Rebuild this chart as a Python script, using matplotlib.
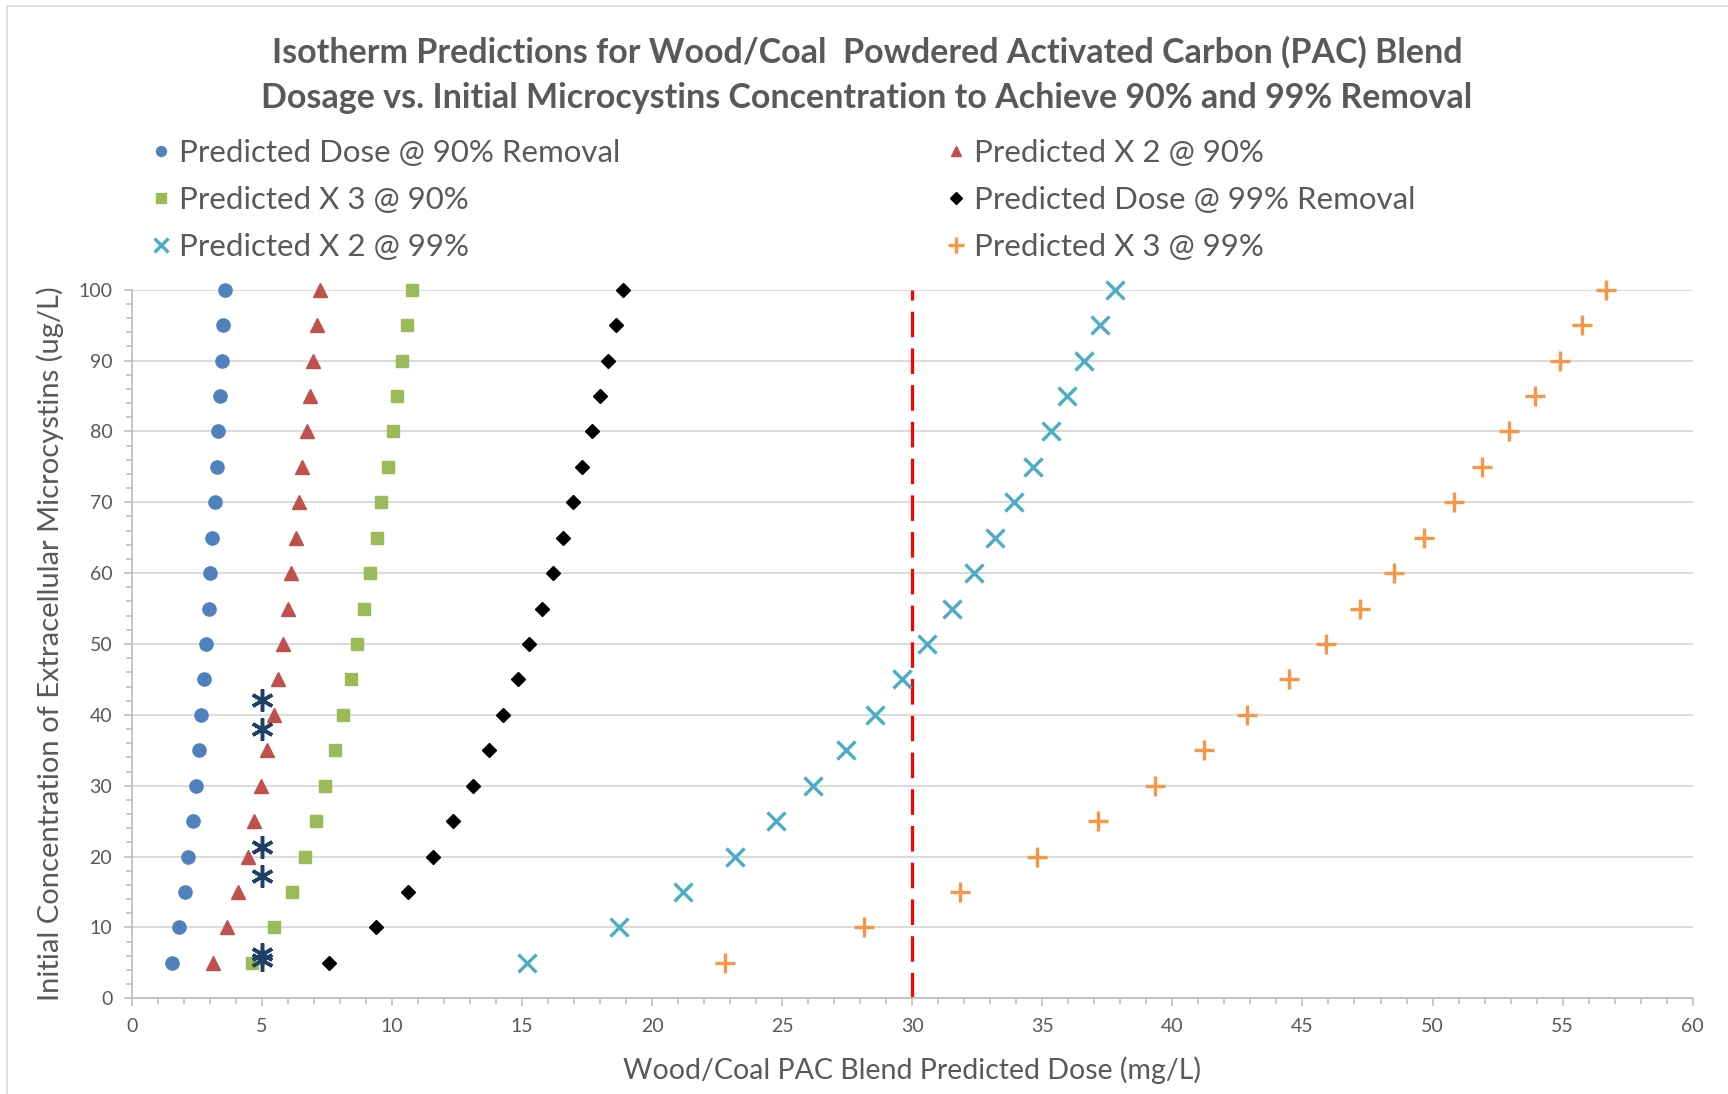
import matplotlib
matplotlib.use("Agg")
import matplotlib.pyplot as plt
from matplotlib.patches import Rectangle
from matplotlib.ticker import MultipleLocator

plt.rcParams['font.family'] = ['Lato', 'DejaVu Sans']

# Data
conc = [5, 10, 15, 20, 25, 30, 35, 40, 45, 50, 55, 60, 65, 70, 75, 80, 85, 90, 95, 100]
dose90 = [1.55, 1.80, 2.05, 2.18, 2.36, 2.48, 2.59, 2.66, 2.78, 2.84, 2.96, 3.02,
          3.09, 3.21, 3.27, 3.33, 3.39, 3.46, 3.52, 3.59]
x2_90 = [3.12, 3.66, 4.10, 4.46, 4.71, 4.97, 5.21, 5.47, 5.63, 5.81, 6.01, 6.12,
         6.31, 6.43, 6.55, 6.74, 6.87, 6.98, 7.11, 7.24]
x3_90 = [4.61, 5.48, 6.15, 6.65, 7.07, 7.44, 7.81, 8.12, 8.43, 8.67, 8.92, 9.16,
         9.41, 9.59, 9.84, 10.03, 10.21, 10.39, 10.57, 10.76]
dose99 = [7.59, 9.38, 10.61, 11.59, 12.35, 13.10, 13.74, 14.28, 14.85, 15.27, 15.77,
          16.21, 16.58, 16.95, 17.31, 17.68, 17.99, 18.29, 18.60, 18.89]
x2_99 = [15.19, 18.74, 21.20, 23.17, 24.76, 26.17, 27.45, 28.57, 29.62, 30.58, 31.52,
         32.39, 33.18, 33.93, 34.66, 35.33, 35.94, 36.61, 37.23, 37.78]
x3_99 = [22.80, 28.14, 31.84, 34.78, 37.15, 39.32, 41.23, 42.87, 44.47, 45.90, 47.23,
         48.51, 49.66, 50.84, 51.90, 52.93, 53.92, 54.90, 55.75, 56.68]
star_x = [5, 5, 5, 5, 5, 5]
star_y = [42.1, 38.0, 21.3, 17.2, 6.3, 5.4]
limit_x = [30, 30]
limit_y = [0, 100]

labels = ["Predicted Dose @ 90% Removal", "Predicted X 2 @ 90%", "Predicted X 3 @ 90%",
          "Predicted Dose @ 99% Removal", "Predicted X 2 @ 99%", "Predicted X 3 @ 99%"]

W, H = 1728, 1094
fig = plt.figure(figsize=(W / 100, H / 100), dpi=100)

# chart border (left/top visible)
fig.patches.append(Rectangle((7 / W, -0.1), 1.2, 1 - 6 / H + 0.1, transform=fig.transFigure,
                             fill=False, edgecolor='#D9D9D9', linewidth=1.2))

x0, x1 = 131.7, 1692.7
y0, y1 = 998.2, 289.8
ax = fig.add_axes([x0 / W, 1 - y0 / H, (x1 - x0) / W, (y0 - y1) / H])
ax.set_xlim(0, 60)
ax.set_ylim(0, 100)

grey = '#595959'
ax.xaxis.set_major_locator(MultipleLocator(5))
ax.xaxis.set_minor_locator(MultipleLocator(1))
ax.yaxis.set_major_locator(MultipleLocator(10))
ax.yaxis.set_minor_locator(MultipleLocator(2))
ax.grid(axis='y', which='major', color='#D9D9D9', linewidth=1.3)
ax.set_axisbelow(True)
for s in ['top', 'right']:
    ax.spines[s].set_visible(False)
for s in ['left', 'bottom']:
    ax.spines[s].set_color('#BFBFBF')
    ax.spines[s].set_linewidth(1.3)
ax.tick_params(which='major', direction='out', length=6, width=1.2, color='#BFBFBF',
               labelcolor=grey, labelsize=14, pad=8)
ax.tick_params(which='minor', direction='out', length=4, width=1.2, color='#BFBFBF')

h = []
h += ax.plot(dose90, conc, 'o', color='#4F81BD', ms=9.5, mec='#4F81BD', ls='none', label=labels[0], clip_on=False)
h += ax.plot(x2_90, conc, '^', color='#C0504D', ms=10.5, ls='none', label=labels[1], clip_on=False)
h += ax.plot(x3_90, conc, 's', color='#9BBB59', ms=9, ls='none', label=labels[2], clip_on=False)
h += ax.plot(dose99, conc, 'D', color='black', ms=7.5, ls='none', label=labels[3], clip_on=False)
h += ax.plot(x2_99, conc, 'x', color='#4BACC6', ms=12.5, mew=2.4, ls='none', label=labels[4], clip_on=False)
h += ax.plot(x3_99, conc, '+', color='#F79646', ms=14.5, mew=2.4, ls='none', label=labels[5], clip_on=False)
ax.plot(star_x, star_y, marker=(6, 2, 0), color='#1F3F66', ms=16, mew=2.5, ls='none')
ax.plot(limit_x, limit_y, color='#FF0000', lw=2.3, dashes=(8, 3.5), zorder=1.5)

ax.set_xlabel("Wood/Coal PAC Blend Predicted Dose (mg/L)", fontsize=20.5, color=grey, labelpad=16)
ax.set_ylabel("Initial Concentration of Extracellular Microcystins (ug/L)", fontsize=21,
              color=grey, labelpad=10)

fig.text(867 / W, 1 - 52 / H, "Isotherm Predictions for Wood/Coal  Powdered Activated Carbon (PAC) Blend",
         ha='center', va='center', fontsize=24.5, fontweight='bold', color=grey)
fig.text(867 / W, 1 - 98 / H, "Dosage vs. Initial Microcystins Concentration to Achieve 90% and 99% Removal",
         ha='center', va='center', fontsize=24.5, fontweight='bold', color=grey)

leg_kw = dict(frameon=False, fontsize=22.5, labelcolor=grey, handlelength=0.7,
              handletextpad=0.22, labelspacing=0.6, borderaxespad=0, borderpad=0,
              loc='upper left')
l1 = fig.legend([h[0], h[2], h[4]], [labels[0], labels[2], labels[4]],
                bbox_to_anchor=(150 / W, 1 - 139 / H), **leg_kw)
l2 = fig.legend([h[1], h[3], h[5]], [labels[1], labels[3], labels[5]],
                bbox_to_anchor=(945 / W, 1 - 139 / H), **leg_kw)
for leg in (l1, l2):
    for lh in leg.legend_handles:
        lh.set_markersize(lh.get_markersize() * 0.75)

fig.savefig("out.png", dpi=100)
